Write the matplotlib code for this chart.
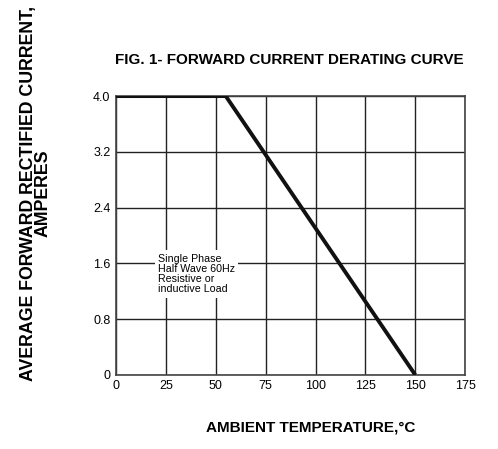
import numpy as np
import matplotlib.pyplot as plt
import matplotlib as mpl

#%% plot settings
mpl.rcParams['font.family'] = ['Liberation Sans', 'DejaVu Sans']

#%% data
temp = [0, 55, 150]
current = [4.0, 4.0, 0.0]

xticks = [0, 25, 50, 75, 100, 125, 150, 175]
yticks = [0, 0.8, 1.6, 2.4, 3.2, 4.0]
ytick_labels = ['0', '0.8', '1.6', '2.4', '3.2', '4.0']

#%% plot
fig = plt.figure(figsize=(4.98, 4.49), dpi=100)
ax = fig.add_axes([0.233, 0.165, 0.701, 0.621])

ax.plot(temp, current, color='#111111', linewidth=2.8, solid_capstyle='butt', zorder=3)

ax.set_xlim(0, 175)
ax.set_ylim(0, 4.0)
ax.set_xticks(xticks)
ax.set_yticks(yticks)
ax.set_yticklabels(ytick_labels)
ax.tick_params(length=0, labelsize=9, pad=4)
ax.grid(True, color='#222222', linewidth=1.0)
for s in ax.spines.values():
    s.set_color('#444444')
    s.set_linewidth(1.2)

# note with white background
ax.text(21, 1.74, 'Single Phase\nHalf Wave 60Hz\nResistive or\ninductive Load',
        fontsize=7.7, va='top', ha='left', linespacing=1.02, zorder=4,
        bbox=dict(facecolor='white', edgecolor='none', pad=2.5))

# labels
fig.text(0.580, 0.866, 'FIG. 1- FORWARD CURRENT DERATING CURVE',
         ha='center', va='center', fontsize=11, fontweight='bold')
fig.text(0.624, 0.047, 'AMBIENT TEMPERATURE,°C',
         ha='center', va='center', fontsize=11, fontweight='bold')
fig.text(0.072, 0.57, 'AVERAGE FORWARD RECTIFIED CURRENT,\nAMPERES',
         ha='center', va='center', rotation=90, fontsize=12.8,
         fontweight='bold', linespacing=0.8)

fig.savefig('out.png', dpi=100)
